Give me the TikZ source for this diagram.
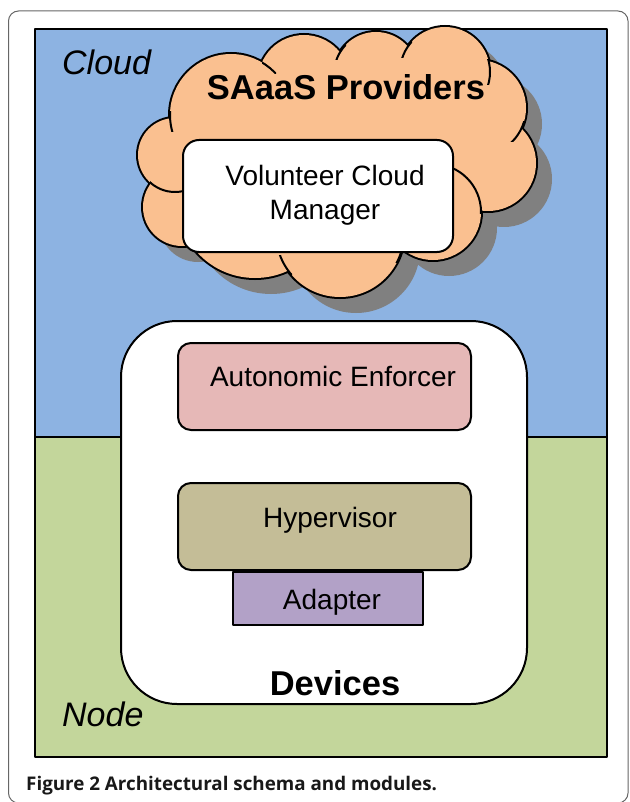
\documentclass[tikz,border=0pt]{standalone}
\usepackage{fontspec}
\setmainfont{Liberation Sans}
\newfontfamily\captionfont{Open Sans}
\usepackage{xcolor}
\usetikzlibrary{positioning}
\definecolor{skyblue}{RGB}{141,179,226}
\definecolor{nodegreen}{RGB}{195,214,155}
\definecolor{saaasorange}{RGB}{250,192,144}
\definecolor{enforcerpink}{RGB}{230,184,183}
\definecolor{hyperkhaki}{RGB}{196,189,151}
\definecolor{adapterlilac}{RGB}{178,161,199}
\definecolor{shadowgray}{RGB}{128,128,128}

% puffs of the cloud: centre x / centre y / radius
\newcommand{\puffs}{231/115/61, 304/81/46, 376/74/42, 445/72/45, 478/108/48, 488/163/48, 433/212/48, 340/233/64, 255/200/78, 182/207/39, 175/155/37}
\newcommand{\puffcore}{(178,127) -- (270,62) -- (340,60) -- (405,56) -- (487,74) -- (512,127) -- (478,210) -- (398,250) -- (285,264) -- (192,244) -- (159,187) -- cycle}

\begin{document}
\begin{tikzpicture}[x=1pt, y=-1pt, line join=round,
    panel/.style={draw=black, line width=2pt},
    box/.style={draw=black, line width=2pt, rounded corners=13pt, minimum width=293pt, minimum height=87pt, inner sep=0pt},
    boxtext/.style={font=\fontsize{28}{34}\selectfont, align=center, inner sep=0pt},
    title/.style={font=\fontsize{34.5}{40}\selectfont\bfseries, inner sep=0pt, anchor=base},
    place/.style={font=\fontsize{34}{40}\selectfont\itshape, inner sep=0pt, anchor=base west}]
        \useasboundingbox (0,0) rectangle (629,802);

        % Frame
        \draw [black!60, line width=1pt, rounded corners=10pt] (8.5,11) rectangle (628,803);

        % Panels
        \draw [panel, fill=skyblue] (35,29) rectangle (607,437);
        \draw [panel, fill=nodegreen] (35,437) rectangle (607,757);
        \node [place] (cloudlabel) at (62,75) {Cloud};
        \node [place] (nodelabel) at (62,726) {Node};

        % Cloud
        \fill [shadowgray] \foreach \cx/\cy/\r in \puffs {(\cx+16,\cy+16) circle (\r pt)};
        \fill [shadowgray, shift={(16,16)}] \puffcore;
        \draw [line width=4pt] \foreach \cx/\cy/\r in \puffs {(\cx,\cy) circle (\r pt)};
        \fill [saaasorange] \foreach \cx/\cy/\r in \puffs {(\cx,\cy) circle (\r pt)};
        \fill [saaasorange] \puffcore;
        \foreach \cx/\cy/\r/\ax/\ay/\bx/\by in {231/115/61/262/58/276/74, 231/115/61/160/112/185/132,
            175/155/37/150/180/185/196, 340/233/64/276/255/292/275, 340/233/64/392/240/410/262,
            433/212/48/448/162/484/214, 478/108/48/505/122/525/142, 445/72/45/484/60/495/85,
            445/72/45/400/42/412/58, 376/74/42/334/44/346/60} {
            \begin{scope}
                \clip (\ax,\ay) rectangle (\bx,\by);
                \draw [line width=2pt] (\cx,\cy) circle (\r pt);
            \end{scope}
        }
        \node [title] (providers) at (346,100) {SAaaS Providers};

        % Manager
        \node [box, fill=white, minimum width=270pt, minimum height=112pt, rounded corners=16pt] (manager) at (318,196) {};
        \node [boxtext] (managertext) at (325,195) {Volunteer Cloud\\Manager};

        % Devices
        \node [box, fill=white, minimum width=406pt, minimum height=383pt, rounded corners=56pt] (devices) at (324,512.5) {};
        \node [box, fill=enforcerpink] (enforcer) at (324.5,386.5) {};
        \node [box, fill=hyperkhaki] (hypervisor) at (324.5,526.5) {};
        \node [box, fill=adapterlilac, rounded corners=0pt, minimum width=190pt, minimum height=53pt, below=0pt of hypervisor, xshift=3.5pt] (adapter) {};

        % Labels
        \node [boxtext, anchor=base] (enforcertext) at (333,386) {Autonomic Enforcer};
        \node [boxtext, anchor=base] (hypervisortext) at (330,527) {Hypervisor};
        \node [boxtext, anchor=base] (adaptertext) at (332,609) {Adapter};
        \node [title] (devicestext) at (335,695) {Devices};

        % Caption
        \node [anchor=base west, inner sep=0pt, font=\captionfont\bfseries\fontsize{18.8}{22}\selectfont, text=black!90] (caption) at (26,790) {Figure 2 Architectural schema and modules.};
    \end{tikzpicture}
\end{document}
